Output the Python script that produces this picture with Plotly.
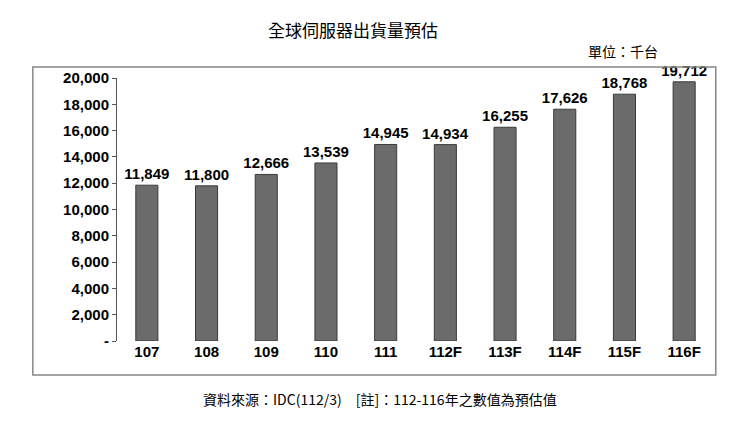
import plotly.graph_objects as go

# 全球伺服器出貨量預估 (單位: 千台)
years = ['107', '108', '109', '110', '111', '112F', '113F', '114F', '115F', '116F']
shipments = [11849, 11800, 12666, 13539, 14945, 14934, 16255, 17626, 18768, 19712]
y_ticks = [0, 2000, 4000, 6000, 8000, 10000, 12000, 14000, 16000, 18000, 20000]
y_labels = ['-'] + [f'{v:,}' for v in y_ticks[1:]]

fig = go.Figure(go.Bar(
    x=years, y=shipments,
    marker=dict(color='#6b6b6b', line=dict(color='#3a3a3a', width=1)),
    width=0.37,
    text=[f'<b>{v:,}</b>' for v in shipments],
    textposition='outside',
    constraintext='none',
    textfont=dict(family='Liberation Sans', size=15, color='black'),
    cliponaxis=False,
))

fig.update_layout(
    width=740, height=427,
    margin=dict(l=109, r=34, t=70, b=94),
    plot_bgcolor='white', paper_bgcolor='white',
    showlegend=False,
    font=dict(family='Liberation Sans', color='black'),
    shapes=[dict(type='rect', xref='paper', yref='paper',
                 x0=-0.141, x1=1.003, y0=-0.129, y1=1.042,
                 line=dict(color='#888888', width=1.5))],
    annotations=[
        dict(text='全球伺服器出貨量預估', xref='paper', yref='paper', x=0.395, y=1.24,
             showarrow=False, font=dict(family='Noto Sans CJK TC', size=17)),
        dict(text='單位：千台', xref='paper', yref='paper', x=0.91, y=1.15,
             showarrow=False, xanchor='right', font=dict(family='Noto Sans CJK TC', size=14)),
        dict(text='資料來源：IDC(112/3)　[註]：112-116年之數值為預估值', xref='paper', yref='paper',
             x=0.44, y=-0.22, showarrow=False, yanchor='middle',
             font=dict(family='Noto Sans CJK TC', size=14)),
    ],
)
fig.update_xaxes(showline=False, ticks='', tickfont=dict(size=15, family='Liberation Sans'),
                 tickprefix='<b>', ticksuffix='</b>')
fig.update_yaxes(range=[0, 20000], tickvals=y_ticks, ticktext=[f'<b>{t}</b>' for t in y_labels],
                 showgrid=False, showline=True, linecolor='#555555', ticks='outside',
                 ticklen=4, tickcolor='#555555', tickfont=dict(size=15), zeroline=False)

fig.write_html('out.html')
